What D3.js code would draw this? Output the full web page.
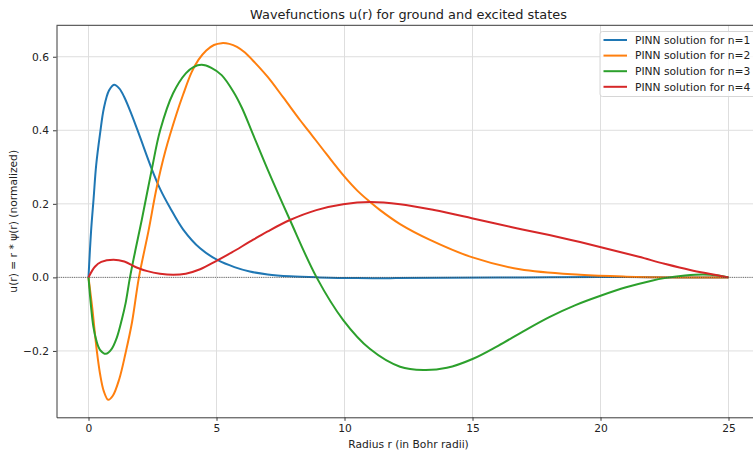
<!DOCTYPE html>
<html>
<head>
<meta charset="utf-8">
<script src="https://cdn.jsdelivr.net/npm/d3@7"></script>
<style>
    body { margin: 0; background: white; }
    text { font-family: "DejaVu Sans", sans-serif; fill: #222; }
</style>
</head>
<body>
<div id="wave-chart"></div>
<script>

// radius values (Bohr radii) and u(r), one pair of arrays per state
var r1 = [0, 0.1, 0.2, 0.3, 0.45, 0.6, 0.8, 1.0, 1.2, 1.4, 1.7, 2.0, 2.47, 2.8, 3.18, 3.7, 4.36, 5.07, 5.7, 6.3, 7.0, 7.87, 9, 10.5, 12, 14, 17, 20, 23, 25];
var u1 = [0, 0.125, 0.215, 0.305, 0.39, 0.46, 0.508, 0.524, 0.514, 0.49, 0.44, 0.384, 0.295, 0.24, 0.19, 0.13, 0.079, 0.046, 0.028, 0.016, 0.008, 0.003, 0.0, -0.002, -0.002, -0.001, 0.0, 0.001, 0.0, 0];

var r2 = [0, 0.15, 0.32, 0.45, 0.6, 0.77, 0.95, 1.2, 1.45, 1.7, 1.97, 2.34, 2.66, 3.0, 3.44, 3.7, 4.03, 4.3, 4.6, 4.9, 5.2, 5.5, 5.8, 6.1, 6.5, 7.0, 7.6, 8.26, 8.6, 9.3, 10.0, 10.5, 11.0, 11.39, 12.17, 13.34, 14.97, 16.85, 19.2, 21, 23, 25];
var u2 = [0, -0.085, -0.197, -0.262, -0.31, -0.333, -0.322, -0.277, -0.205, -0.122, 0, 0.125, 0.243, 0.343, 0.445, 0.498, 0.558, 0.592, 0.617, 0.632, 0.637, 0.635, 0.627, 0.612, 0.584, 0.545, 0.49, 0.428, 0.398, 0.335, 0.274, 0.236, 0.205, 0.183, 0.145, 0.102, 0.055, 0.022, 0.007, 0.002, 0.0, 0];

var r3 = [0, 0.1, 0.19, 0.3, 0.45, 0.68, 0.9, 1.1, 1.3, 1.45, 1.62, 1.85, 2.08, 2.47, 2.8, 3.3, 3.8, 4.1, 4.42, 4.8, 5.2, 5.66, 6.0, 6.39, 7.0, 7.87, 8.91, 9.95, 11.0, 12.17, 13.08, 14.0, 15.0, 16.0, 17.0, 18.0, 19.0, 20.0, 21.0, 22.0, 22.5, 23.3, 24.0, 24.6, 25];
var u3 = [0, -0.08, -0.134, -0.17, -0.197, -0.208, -0.195, -0.165, -0.115, -0.07, 0, 0.08, 0.156, 0.293, 0.4, 0.5, 0.555, 0.572, 0.578, 0.57, 0.55, 0.505, 0.46, 0.395, 0.293, 0.156, 0, -0.116, -0.195, -0.243, -0.252, -0.246, -0.222, -0.186, -0.146, -0.108, -0.076, -0.05, -0.027, -0.009, -0.002, 0.005, 0.008, 0.005, 0];

var r4 = [0, 0.25, 0.5, 0.97, 1.4, 1.88, 2.3, 2.79, 3.31, 3.8, 4.36, 5.0, 5.6, 6.3, 7.0, 7.87, 8.9, 9.95, 11.0, 12.17, 13.5, 14.97, 16.5, 18.0, 19.2, 20.37, 21.5, 22.5, 23.5, 25];
var u4 = [0, 0.029, 0.042, 0.048, 0.043, 0.027, 0.017, 0.01, 0.007, 0.01, 0.022, 0.045, 0.068, 0.097, 0.125, 0.156, 0.183, 0.199, 0.205, 0.199, 0.183, 0.161, 0.137, 0.115, 0.096, 0.076, 0.056, 0.037, 0.02, 0];

var labels = ["PINN solution for n=1", "PINN solution for n=2", "PINN solution for n=3", "PINN solution for n=4"];
var colors = ["#1f77b4", "#ff7f0e", "#2ca02c", "#d62728"];
var xTicks = [0, 5, 10, 15, 20, 25];
var yTicks = [-0.2, 0.0, 0.2, 0.4, 0.6];

/**
 * Constructor for the wavefunction chart
 */
function WaveChart(series) {
    var self = this;
    self.series = series;
    self.init();
};

WaveChart.prototype.init = function () {
    var self = this;
    self.svgWidth = 753;
    self.svgHeight = 454;
    // the axes run a bit past the right edge of the picture (cropped figure)
    self.plot = { left: 56.5, right: 760.5, top: 25.3, bottom: 417.3 };

    self.svg = d3.select("#wave-chart").append("svg")
        .attr("width", self.svgWidth)
        .attr("height", self.svgHeight);
};

WaveChart.prototype.update = function () {
    var self = this;
    var svg = self.svg;
    var p = self.plot;

    var x = d3.scaleLinear()
        .domain([-1.25, 26.25])
        .range([p.left, p.right]);

    var y = d3.scaleLinear()
        .domain([-0.3805, 0.6855])
        .range([p.bottom, p.top]);

    // grid
    svg.append("g").selectAll("line")
        .data(xTicks)
        .enter()
        .append("line")
        .attr("x1", function (d) { return x(d); })
        .attr("x2", function (d) { return x(d); })
        .attr("y1", p.top)
        .attr("y2", p.bottom)
        .attr("stroke", "#dedede")
        .attr("stroke-width", 1);
    svg.append("g").selectAll("line")
        .data(yTicks)
        .enter()
        .append("line")
        .attr("x1", p.left)
        .attr("x2", p.right)
        .attr("y1", function (d) { return y(d); })
        .attr("y2", function (d) { return y(d); })
        .attr("stroke", "#dedede")
        .attr("stroke-width", 1);

    var line = d3.line()
        .x(function (d) { return x(d[0]); })
        .y(function (d) { return y(d[1]); })
        .curve(d3.curveCatmullRom.alpha(0.5));

    svg.append("g").selectAll("path")
        .data(self.series)
        .enter()
        .append("path")
        .attr("d", function (d) { return line(d3.zip(d.r, d.u)); })
        .attr("fill", "none")
        .attr("stroke", function (d, i) { return colors[i]; })
        .attr("stroke-width", 2)
        .attr("stroke-linejoin", "round");

    // dotted zero line on top of the curves
    svg.append("line")
        .attr("x1", p.left)
        .attr("x2", p.right)
        .attr("y1", y(0))
        .attr("y2", y(0))
        .attr("stroke", "#444")
        .attr("stroke-width", 0.8)
        .attr("stroke-dasharray", "1,1.2");

    // axes
    var xAxis = d3.axisBottom(x).tickValues(xTicks).tickSize(3.5).tickSizeOuter(0).tickPadding(4)
        .tickFormat(d3.format("d"));
    var yAxis = d3.axisLeft(y).tickValues(yTicks).tickSize(3.5).tickSizeOuter(0).tickPadding(4)
        .tickFormat(function (d) { return d3.format(".1f")(d).replace("-", "\u2212"); });

    var gx = svg.append("g")
        .attr("transform", "translate(0," + p.bottom + ")")
        .call(xAxis);
    var gy = svg.append("g")
        .attr("transform", "translate(" + p.left + ",0)")
        .call(yAxis);
    [gx, gy].forEach(function (g) {
        g.select(".domain").attr("stroke", "#3a3a3a").attr("stroke-width", 1);
        g.selectAll(".tick line").attr("stroke", "#3a3a3a");
        g.selectAll(".tick text").attr("font-size", 10.7).attr("fill", "#222")
            .attr("font-family", "DejaVu Sans");
    });
    // top spine
    svg.append("line")
        .attr("x1", p.left)
        .attr("x2", p.right)
        .attr("y1", p.top)
        .attr("y2", p.top)
        .attr("stroke", "#3a3a3a")
        .attr("stroke-width", 1);

    // titles
    svg.append("text")
        .attr("x", (p.left + p.right) / 2)
        .attr("y", 19)
        .attr("text-anchor", "middle")
        .attr("font-size", 12.9)
        .text("Wavefunctions u(r) for ground and excited states");
    svg.append("text")
        .attr("x", (p.left + p.right) / 2)
        .attr("y", 448)
        .attr("text-anchor", "middle")
        .attr("font-size", 10.7)
        .text("Radius r (in Bohr radii)");
    svg.append("text")
        .attr("transform", "translate(17," + ((p.top + p.bottom) / 2) + ") rotate(-90)")
        .attr("text-anchor", "middle")
        .attr("font-size", 10.7)
        .text("u(r) = r * \u03c8(r) (normalized)");

    // legend
    var legend = svg.append("g").attr("transform", "translate(600,31.5)");
    legend.append("rect")
        .attr("width", 160)
        .attr("height", 65)
        .attr("rx", 2.5)
        .attr("fill", "white")
        .attr("fill-opacity", 0.8)
        .attr("stroke", "#d6d6d6");
    var rows = legend.selectAll(".row")
        .data(labels)
        .enter()
        .append("g")
        .attr("class", "row")
        .attr("transform", function (d, i) { return "translate(0," + (8.5 + i * 15.6) + ")"; });
    rows.append("line")
        .attr("x1", 3.5)
        .attr("x2", 27)
        .attr("stroke", function (d, i) { return colors[i]; })
        .attr("stroke-width", 2);
    rows.append("text")
        .attr("x", 35)
        .attr("dy", "0.35em")
        .attr("font-size", 10.7)
        .text(function (d) { return d; });
};

var chart = new WaveChart([
    { r: r1, u: u1 },
    { r: r2, u: u2 },
    { r: r3, u: u3 },
    { r: r4, u: u4 }
]);
chart.update();
</script>
</body>
</html>
